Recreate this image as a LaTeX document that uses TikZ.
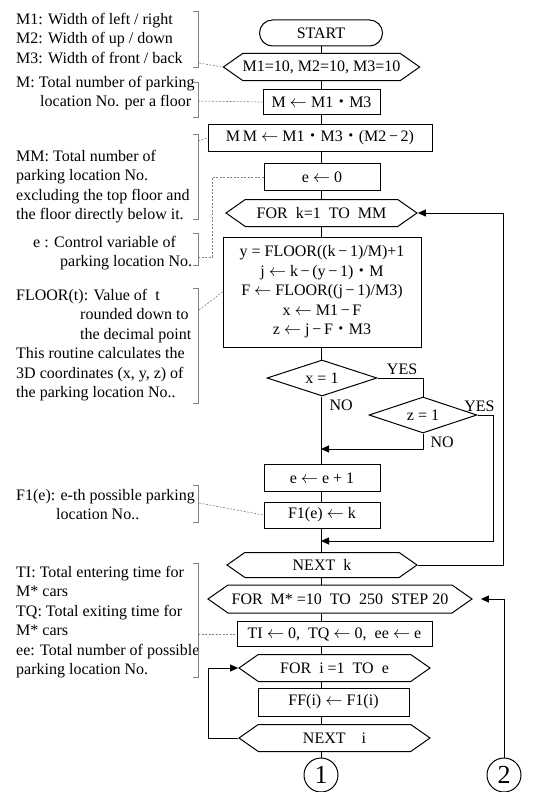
\documentclass[tikz,border=0pt]{standalone}
\usepackage{fontspec}
\setmainfont{Liberation Serif}
\newfontfamily\cjkfont{Noto Sans CJK JP}
\usetikzlibrary{shapes.geometric,shapes.symbols,arrows.meta}

\newcommand{\mdot}{{\cjkfont ・}}
\newcommand{\larr}{\ensuremath{\leftarrow}}

\tikzset{
  proc/.style={draw, line width=1pt, minimum height=27pt, inner sep=0pt, fill=white},
  hexa/.style={draw, line width=1pt, shape=signal, signal to=west and east,
    signal pointer angle=70, minimum height=27pt, inner sep=0pt},
  term/.style={draw, line width=1pt, rounded corners=13pt, minimum width=123pt, minimum height=26pt},
  decide/.style={draw, line width=1pt, diamond, aspect=3, minimum width=110pt,
    minimum height=36pt, inner sep=0pt},
  conn/.style={draw, line width=1pt, circle, minimum size=34pt, inner sep=0pt,
    font=\fontsize{26}{30}\selectfont},
  flow/.style={line width=1pt},
  arr/.style={line width=1pt, -{Triangle[length=8pt,width=7pt]}},
  brk/.style={gray, line width=0.6pt},
  note/.style={gray, line width=0.6pt, dash pattern=on 2pt off 1.5pt},
  memo/.style={anchor=north west, inner sep=0pt, align=left},
}

\begin{document}
\begin{tikzpicture}[x=1pt, y=-1pt, font=\fontsize{16}{19.5}\selectfont]
\useasboundingbox (0,0) rectangle (534,792);

% Main column
\coordinate (axis) at (321,0);
\node[term] (start) at (321,33) {START};
\node[hexa, minimum width=191pt] (init) at (321.5,67) {M1=10, M2=10, M3=10};
\node[proc, minimum width=117pt, minimum height=25pt] (mset) at (321.5,102) {M \larr{} M1\mdot M3};
\node[proc, minimum width=224pt] (mmset) at (320,138) {M\,M \larr{} M1\mdot M3\mdot (M2\,−\,2)};
\node[proc, minimum width=116pt] (eset) at (322,177) {e \larr{} 0};
\node[hexa, minimum width=191pt] (fork) at (321.5,213) {FOR\ \ k=1\ \ TO\ \ MM};
\node[proc, minimum width=198pt, minimum height=110pt, align=center] (coord) at (322,292)
  {y = FLOOR((k\,−\,1)/M)+1\\
   j \larr{} k\,−\,(y\,−\,1)\mdot M\\
   F \larr{} FLOOR((j\,−\,1)/M3)\\
   x \larr{} M1\,−\,F\\
   z \larr{} j\,−\,F\mdot M3};
\node[decide] (isx) at (322,378) {x = 1};
\node[decide, minimum width=108pt] (isz) at (423,415) {z = 1};
\node[proc, minimum width=116pt] (einc) at (322,478) {e \larr{} e + 1};
\node[proc, minimum width=116pt, minimum height=26pt] (fone) at (322,515) {F1(e) \larr{} k};
\node[hexa, minimum width=190pt, minimum height=25pt] (nextk) at (322,565) {NEXT\ \ k};
\node[hexa, minimum width=264pt, minimum height=28pt] (forms) at (340,599)
  {FOR\ \ M* =10\ \ TO\ \ 250\ \ STEP 20};
\node[proc, minimum width=195pt, minimum height=25pt] (tinit) at (334.5,634)
  {TI \larr{} 0,\ \ TQ \larr{} 0,\ \ ee \larr{} e};
\node[hexa, minimum width=191pt] (fori) at (334.5,668) {FOR\ \ i =1\ \ TO\ \ e};
\node[proc, minimum width=151pt, minimum height=28pt] (ffset) at (333.5,702) {FF(i) \larr{} F1(i)};
\node[hexa, minimum width=191pt] (nexti) at (334.5,738) {NEXT\ \ \ \ i};
\node[conn] (cone) at (321,775) {1};
\node[conn] (ctwo) at (504,775) {2};

% Flow lines
\foreach \a/\b in {start/init, init/mset, mset/mmset, mmset/eset, eset/fork, fork/coord,
  coord/isx, isx/einc, einc/fone, fone/nextk, nextk/forms, forms/tinit, tinit/fori,
  fori/ffset, ffset/nexti, nexti/cone}
  \draw[flow] (axis |- \a.south) -- (axis |- \b.north);

% Branches
\coordinate (joina) at (321,449);
\coordinate (joinb) at (321,541);
\draw[flow] (isx.east) -| node[above, pos=0.27] (yesx) {YES} (isz.north);
\node[anchor=north west] (nox) at ([xshift=4pt]isx.south) {NO};
\draw[arr] (isz.south) |- (joina);
\node[anchor=north west] (noz) at ([xshift=4pt]isz.south) {NO};
\draw[arr] (isz.east) -- ++(16,0) |- (joinb);
\node[above] (yesz) at ([xshift=2pt]isz.east) {YES};

% Loops
\draw[arr] (nextk.east) -- ++(86,0) |- (fork.east);
\draw[arr, shorten >=8pt] (ctwo.north) |- (forms.east);
\draw[arr] (nexti.west) -- ++(-30,0) |- (fori.west);

% Notes
\node[memo] (nmsize) at (16,13) {M1: Width of left / right\\M2: Width of up / down\\M3: Width of front / back};
\draw[brk] (193,11) -- (198,11) -- (198,67) -- (193,67);
\coordinate (bmsize) at (199,63);
\draw[note] (bmsize) -- (init.west);

\node[memo] (nm) at (16,76) {M: Total number of parking\\\hspace*{24pt}location No. per a floor};
\draw[brk] (193,82) -- (198,82) -- (198,117) -- (193,117);
\coordinate (bm) at (198,101);
\draw[note] (bm) -- (mset.west);

\node[memo] (nmm) at (16,150) {MM: Total number of\\parking location No.\\excluding the top floor and\\the floor directly below it.};
\draw[brk] (193,134) -- (198,134) -- (198,219) -- (193,219);
\coordinate (bmm) at (198,141);
\draw[note] (bmm) -- (mmset.west);

\node[memo] (ne) at (33,236) {e : Control variable of\\\hspace*{27pt}parking location No.};
\draw[brk] (193,233) -- (198,233) -- (198,265) -- (193,265);
\coordinate (be) at (198,257);
\draw[note] (eset.west) -- (212,177) -- (212,257) -- (be);

\node[memo] (nfloor) at (16,289) {FLOOR(t): Value of\ \ t\\\hspace*{64pt}rounded down to\\\hspace*{64pt}the decimal point\\This routine calculates the\\3D coordinates (x, y, z) of\\the parking location No..};
\draw[brk] (193,288) -- (198,288) -- (198,403) -- (193,403);
\coordinate (bfloor) at (199,310);
\draw[note] (bfloor) -- (coord.west);

\node[memo] (nfone) at (16,489) {F1(e): e-th possible parking\\\hspace*{40pt}location No..};
\draw[brk] (193,485) -- (198,485) -- (198,522) -- (193,522);
\coordinate (bfone) at (199,503);
\draw[note] (bfone) -- (fone.west);

\node[memo] (ntime) at (16,566) {TI: Total entering time for\\M* cars\\TQ: Total exiting time for\\M* cars\\ee: Total number of possible\\parking location No.};
\draw[brk] (193,563) -- (198,563) -- (198,677) -- (193,677);
\coordinate (btime) at (198,634);
\draw[note] (btime) -- (tinit.west);

\end{tikzpicture}
\end{document}
